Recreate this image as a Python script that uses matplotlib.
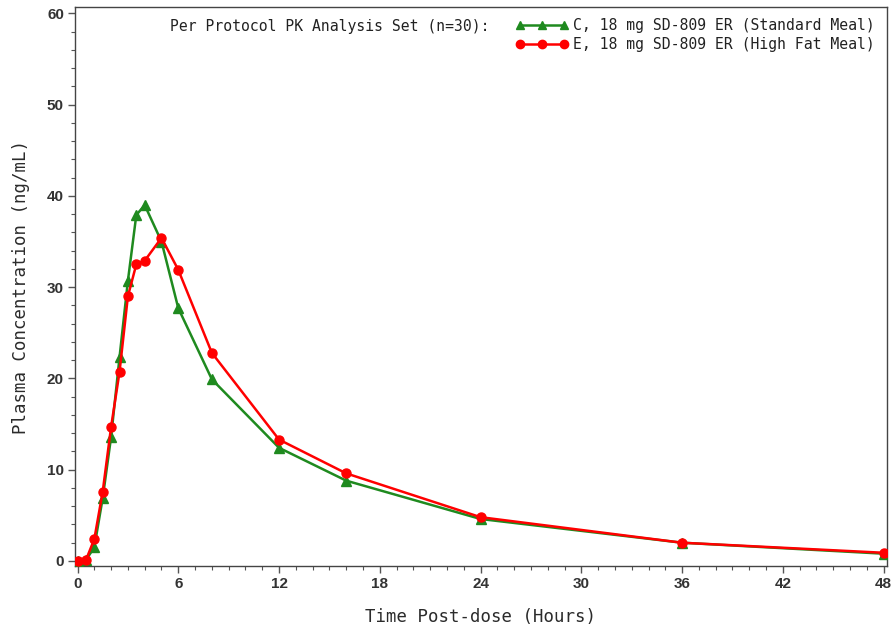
import matplotlib
matplotlib.use("Agg")
import matplotlib.pyplot as plt
from matplotlib.lines import Line2D
from matplotlib.ticker import MultipleLocator

# nominal sampling times (hours)
hours = [0, 0.5, 1, 1.5, 2, 2.5, 3, 3.5, 4, 5, 6, 8, 12, 16, 24, 36, 48]

# mean plasma concentration (ng/mL)
conc_std_meal = [0.0, 0.1, 1.5, 6.9, 13.6, 22.3, 30.7, 37.9, 39.0, 35.0, 27.7,
                 19.9, 12.4, 8.8, 4.6, 2.0, 0.8]
conc_high_fat = [0.0, 0.1, 2.4, 7.6, 14.7, 20.7, 29.0, 32.5, 32.9, 35.4, 31.9,
                 22.8, 13.3, 9.6, 4.8, 2.0, 0.9]

label_std = "C, 18 mg SD-809 ER (Standard Meal)"
label_hf = "E, 18 mg SD-809 ER (High Fat Meal)"
legend_title = "Per Protocol PK Analysis Set (n=30):"

GREEN = "#1f8a1f"
RED = "#ff0000"
TXT = "#2b2b2b"
MONO = "DejaVu Sans Mono"

fig = plt.figure(figsize=(8.95, 6.31), dpi=100)
ax = fig.add_axes([75 / 895, 1 - 566 / 631, (887 - 75) / 895, (566 - 7) / 631])

ax.plot(hours, conc_std_meal, "-", color=GREEN, lw=1.8, marker="^",
        markersize=6.5, label=label_std, zorder=3)
ax.plot(hours, conc_high_fat, "-", color=RED, lw=1.8, marker="o",
        markersize=6.5, label=label_hf, zorder=4)

ax.set_xlim(-0.15, 48.2)
ax.set_ylim(-0.55, 60.7)
ax.xaxis.set_major_locator(MultipleLocator(6))
ax.xaxis.set_minor_locator(MultipleLocator(1))
ax.yaxis.set_major_locator(MultipleLocator(10))
ax.yaxis.set_minor_locator(MultipleLocator(2))

ax.tick_params(which="major", direction="out", length=5, width=1, colors="#555555",
               labelcolor="#333333", labelsize=11, pad=3)
ax.tick_params(which="minor", direction="out", length=3, width=0.8, colors="#555555")
for lab in ax.get_xticklabels() + ax.get_yticklabels():
    lab.set_fontweight("bold")
    lab.set_family("Liberation Sans")

for sp in ax.spines.values():
    sp.set_color("#444444")
    sp.set_linewidth(1)

ax.set_xlabel("Time Post-dose (Hours)", family=MONO, fontsize=12.5, color=TXT,
              labelpad=12)
ax.set_ylabel("Plasma Concentration (ng/mL)", family=MONO, fontsize=12.5,
              color=TXT, labelpad=12)

handles = [
    Line2D([], [], color=GREEN, lw=1.8, marker="^", markersize=6),
    Line2D([], [], color=RED, lw=1.8, marker="o", markersize=6),
]
leg = ax.legend(handles, [label_std, label_hf], loc="upper right",
                bbox_to_anchor=(875 / 895, 1 - 18 / 631),
                bbox_transform=fig.transFigure, frameon=False, numpoints=3,
                handlelength=3.6, handletextpad=0.35, borderaxespad=0,
                borderpad=0, labelspacing=0.25,
                prop={"family": MONO, "size": 10.6})
for t in leg.get_texts():
    t.set_color("#222222")

fig.text(170 / 895, 1 - 26 / 631, legend_title, family=MONO, fontsize=10.6,
         color="#222222", ha="left", va="center")

fig.savefig("out.png", dpi=100)
